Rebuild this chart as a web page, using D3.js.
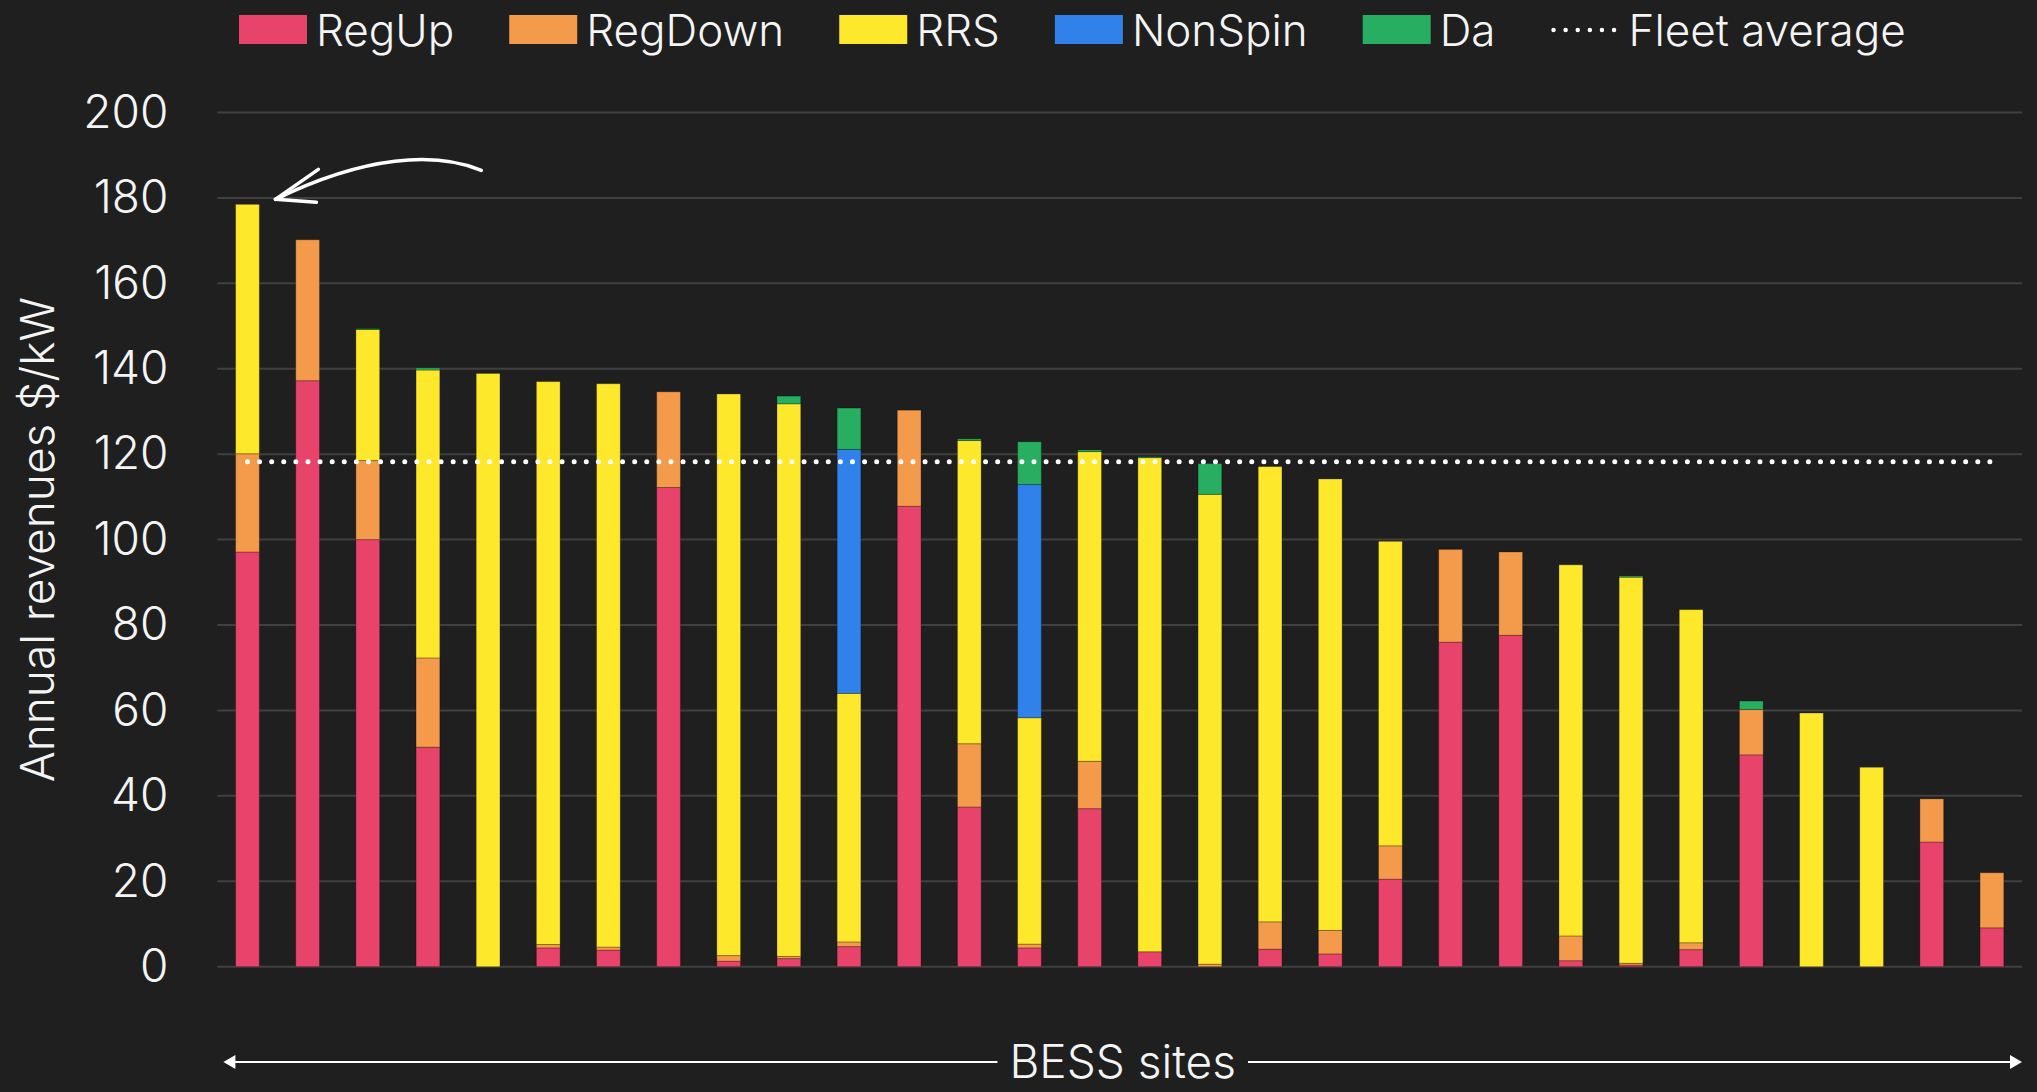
<!DOCTYPE html>
<meta charset="utf-8">

<!-- Load d3.js -->
<script src="https://d3js.org/d3.v7.min.js"></script>

<style>
  body { margin: 0; background: #1f1f1f; }
  text { font-family: Inter, "Noto Sans", sans-serif; fill: #f4f4f4; }
</style>

<div id="my_dataviz"></div>

<script>
// data, one value per BESS site (sorted by total)
var sites = d3.range(1, 31).map(function(i){ return "Site " + i; });
var regUp   = [97.1, 137.2, 100.0, 51.4, 0, 4.4, 3.9, 112.2, 1.3, 1.9, 4.7, 107.8, 37.4, 4.4, 37.0, 3.5, 0, 4.1, 3.0, 20.5, 76.0, 77.6, 1.4, 0.4, 4.0, 49.6, 0, 0, 29.2, 9.1];
var regDown = [23.0, 33.0, 18.5, 20.9, 0, 0.8, 0.7, 22.4, 1.3, 0.5, 1.1, 22.5, 14.8, 0.9, 11.1, 0, 0.6, 6.4, 5.5, 7.8, 21.7, 19.5, 5.8, 0.4, 1.6, 10.6, 0, 0, 10.1, 12.9];
var rrs     = [58.4, 0, 30.7, 67.4, 138.9, 131.8, 131.9, 0, 131.5, 129.4, 58.2, 0, 71.0, 53.0, 72.5, 115.7, 110.0, 106.6, 105.7, 71.3, 0, 0, 86.9, 90.4, 78.0, 0, 59.4, 46.7, 0, 0];
var nonSpin = [0, 0, 0, 0, 0, 0, 0, 0, 0, 0, 57.1, 0, 0, 54.6, 0, 0, 0, 0, 0, 0, 0, 0, 0, 0, 0, 0, 0, 0, 0, 0];
var da      = [0, 0, 0.2, 0.5, 0, 0, 0, 0, 0, 1.8, 9.7, 0, 0.4, 10.0, 0.4, 0.2, 7.2, 0, 0, 0, 0, 0, 0, 0.3, 0, 2.0, 0, 0, 0, 0];
var fleetAverage = 118.2;

var keys = ["RegUp", "RegDown", "RRS", "NonSpin", "Da"];
var yTicks = [0, 20, 40, 60, 80, 100, 120, 140, 160, 180, 200];

var colours = {'RegUp':'#e8436a', 'RegDown':'#f39b4b', 'RRS':'#fde82b', 'NonSpin':'#3082ea', 'Da':'#27ae60'};

// build table for d3.stack
var table = sites.map(function(s, i){
  return {site: s, RegUp: regUp[i], RegDown: regDown[i], RRS: rrs[i], NonSpin: nonSpin[i], Da: da[i]};
});

var W = 2037, H = 1092;
var margin = {top: 112.5, right: 15, bottom: 125.3, left: 217.4};

var svg = d3.select("#my_dataviz")
  .append("svg")
    .attr("width", W)
    .attr("height", H)
    .style("background", "#1f1f1f");

// scales
var x = d3.scaleBand()
  .domain(sites)
  .range([margin.left, W - margin.right])
  .paddingInner(0.605)
  .paddingOuter(0.3025);

var y = d3.scaleLinear()
  .domain([0, 200])
  .range([H - margin.bottom, margin.top]);

// gridlines
svg.append("g")
  .selectAll("line")
  .data(yTicks)
  .enter()
  .append("line")
    .attr("x1", x.range()[0])
    .attr("x2", x.range()[1])
    .attr("y1", function(d){ return y(d); })
    .attr("y2", function(d){ return y(d); })
    .attr("stroke", "#404040")
    .attr("stroke-width", 2);

// Y axis (labels only)
var yAxis = svg.append("g")
  .attr("transform", "translate(" + (margin.left - 49) + ",0)")
  .call(d3.axisLeft(y).tickValues(yTicks).tickSize(0).tickPadding(0));
yAxis.select(".domain").remove();
yAxis.selectAll("text")
  .attr("fill", "#f4f4f4")
  .style("font-family", "Inter, 'Noto Sans', sans-serif")
  .style("font-size", "46px")
  .style("font-weight", 300);

// Y axis title
svg.append("text")
  .attr("transform", "translate(54," + y(100) + ")rotate(-90)")
  .attr("text-anchor", "middle")
  .style("font-size", "46px")
  .style("font-weight", 300)
  .text("Annual revenues $/kW");

// stacked bars
var stacked = d3.stack().keys(keys)(table);

svg.append("g")
  .selectAll("g")
  .data(stacked)
  .enter()
  .append("g")
    .attr("fill", function(d){ return colours[d.key]; })
  .selectAll("rect")
  .data(function(d){ return d; })
  .enter()
  .filter(function(d){ return d[1] - d[0] > 0; })
  .append("rect")
    .attr("x", function(d){ return x(d.data.site); })
    .attr("width", x.bandwidth())
    .attr("y", function(d){ return y(d[1]); })
    .attr("height", function(d){ return y(d[0]) - y(d[1]); })
    .attr("stroke", "rgba(0,0,0,0.25)")
    .attr("stroke-width", 1);

// fleet average dotted line
var xFirst = x(sites[0]) + x.bandwidth() / 2,
    xLast = x(sites[sites.length - 1]) + x.bandwidth() / 2;
svg.append("line")
  .attr("x1", xFirst)
  .attr("x2", xLast)
  .attr("y1", y(fleetAverage))
  .attr("y2", y(fleetAverage))
  .attr("stroke", "#ffffff")
  .attr("stroke-width", 5)
  .attr("stroke-linecap", "round")
  .attr("stroke-dasharray", "0 12.1");

// hand drawn arrow pointing at the top site
var tipX = x(sites[0]) + x.bandwidth() + 16,
    tipY = y(d3.sum(keys, function(k){ return table[0][k]; })) - 5;
var arrow = svg.append("g")
  .attr("fill", "none")
  .attr("stroke", "#ffffff")
  .attr("stroke-width", 3.5)
  .attr("stroke-linecap", "round")
  .attr("stroke-linejoin", "round");
arrow.append("path")
  .attr("d", "M" + (tipX + 206) + "," + (tipY - 29) +
             " C" + (tipX + 160) + "," + (tipY - 48) + " " + (tipX + 90) + "," + (tipY - 44) + " " + tipX + "," + tipY);
arrow.append("path")
  .attr("d", "M" + (tipX + 43) + "," + (tipY - 30) + " L" + tipX + "," + tipY + " L" + (tipX + 41) + "," + (tipY + 3));

// legend
var legendItems = keys.concat(["Fleet average"]);
var legend = svg.append("g");
var lx = 239;
legendItems.forEach(function(k){
  var g = legend.append("g").attr("transform", "translate(" + lx + ",0)");
  if (k === "Fleet average") {
    g.append("line")
      .attr("x1", 3).attr("x2", 64)
      .attr("y1", 30).attr("y2", 30)
      .attr("stroke", "#ffffff")
      .attr("stroke-width", 4.5)
      .attr("stroke-linecap", "round")
      .attr("stroke-dasharray", "0 12.1");
  } else {
    g.append("rect")
      .attr("x", 0).attr("y", 15)
      .attr("width", 68).attr("height", 29)
      .attr("fill", colours[k]);
  }
  var t = g.append("text")
    .attr("x", k === "Fleet average" ? 78 : 77)
    .attr("y", 46)
    .style("font-size", "44px")
    .style("font-weight", 300)
    .text(k);
  lx += 77 + t.node().getComputedTextLength() + 55;
});

// bottom "BESS sites" arrow
var ay = 1062,
    ax0 = x.range()[0] + 6,
    ax1 = x.range()[1];
var lc = (ax0 + ax1) / 2;
var label = svg.append("text")
  .attr("x", lc)
  .attr("y", ay + 16)
  .attr("text-anchor", "middle")
  .style("font-size", "46px")
  .style("font-weight", 300)
  .text("BESS sites");
var lw = label.node().getComputedTextLength();
svg.append("line")
  .attr("x1", ax0 + 8).attr("x2", lc - lw / 2 - 12)
  .attr("y1", ay).attr("y2", ay)
  .attr("stroke", "#ffffff").attr("stroke-width", 2);
svg.append("line")
  .attr("x1", lc + lw / 2 + 12).attr("x2", ax1 - 8)
  .attr("y1", ay).attr("y2", ay)
  .attr("stroke", "#ffffff").attr("stroke-width", 2);
svg.append("path")
  .attr("d", "M" + ax0 + "," + ay + " l12,-7 l0,14 z")
  .attr("fill", "#ffffff");
svg.append("path")
  .attr("d", "M" + ax1 + "," + ay + " l-12,-7 l0,14 z")
  .attr("fill", "#ffffff");
</script>
